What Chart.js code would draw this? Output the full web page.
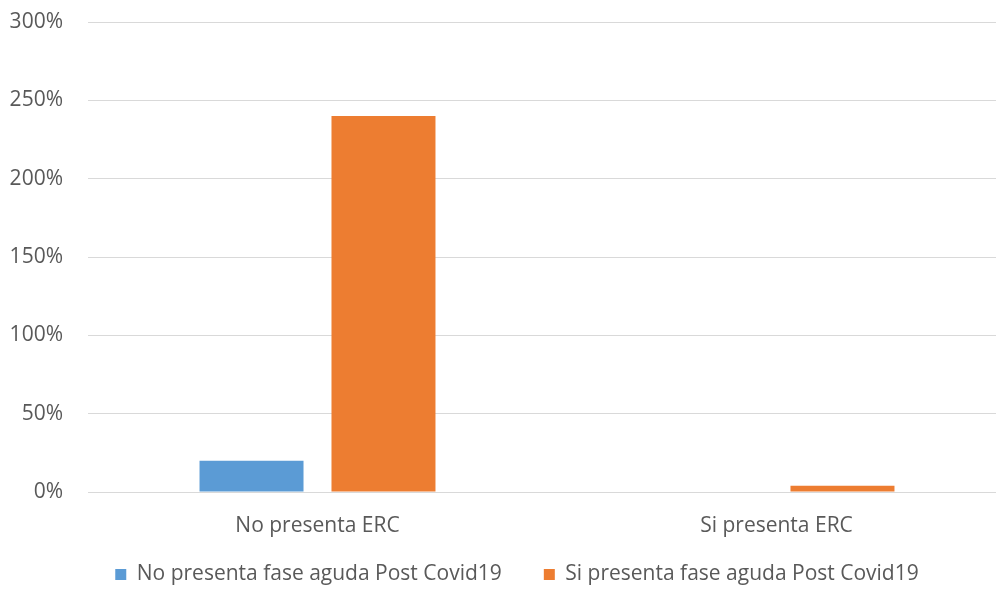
<!DOCTYPE html>
<html>
<head>
<meta charset="utf-8">
<script src="https://cdn.jsdelivr.net/npm/chart.js@4"></script>
<style>
  html, body { margin: 0; padding: 0; background: #fff; overflow: hidden; }
  #grafico { display: block; }
</style>
</head>
<body>
<!-- el gráfico original está recortado a la derecha, por eso el lienzo es algo más ancho que la ventana -->
<canvas id="grafico" width="1006" height="591"></canvas>
<script>
// ================= DATOS =================

const categorias = ["No presenta ERC", "Si presenta ERC"];
const serieNoFase = [20, 0];
const serieSiFase = [240, 4];
const nombresSeries = ["No presenta fase aguda Post Covid19", "Si presenta fase aguda Post Covid19"];
const coloresSeries = ["#5B9BD5", "#ED7D31"];

// ================= GRÁFICO =================

const fuente = "'Open Sans', 'Liberation Sans', sans-serif";

// la leyenda del original está centrada en todo el ancho del gráfico (más ancho que la captura)
// y el padding de la leyenda (separación entre items) también empuja el texto hacia abajo
const moverLeyenda = {
  id: "moverLeyenda",
  afterLayout(chart) {
    if (!chart.legend) return;
    chart.legend.left += 14;
    chart.legend.right += 14;
    chart.legend.top -= 16;
    chart.legend.bottom -= 16;
  }
};

new Chart(document.getElementById("grafico"), {
  type: "bar",
  data: {
    labels: categorias,
    datasets: [
      { label: nombresSeries[0], data: serieNoFase, backgroundColor: coloresSeries[0] },
      { label: nombresSeries[1], data: serieSiFase, backgroundColor: coloresSeries[1] }
    ]
  },
  plugins: [moverLeyenda],
  options: {
    responsive: false,
    animation: false,
    layout: { padding: { left: 0, right: 0, top: 22, bottom: -20 } },
    datasets: {
      bar: { categoryPercentage: 0.575, barPercentage: 0.788 }
    },
    scales: {
      x: {
        afterFit: (s) => { s.height = 46; },
        grid: { display: false },
        border: { color: "#D9D9D9", width: 1 },
        ticks: { color: "#595959", font: { family: fuente, size: 21 }, padding: 13, maxRotation: 0 }
      },
      y: {
        min: 0,
        max: 300,
        afterFit: (s) => {
          s.width = 88;
          s.paddingTop = 0;
          s.paddingBottom = 0;
        },
        grid: { color: "#D9D9D9", drawTicks: false },
        border: { display: false },
        ticks: {
          stepSize: 50,
          padding: 25,
          color: "#595959",
          font: { family: fuente, size: 21 },
          callback: (v) => v + "%"
        }
      }
    },
    plugins: {
      tooltip: { enabled: false },
      legend: {
        position: "bottom",
        labels: {
          color: "#595959",
          font: { family: fuente, size: 21 },
          boxWidth: 11,
          boxHeight: 11,
          padding: 42
        }
      }
    }
  }
});
</script>
</body>
</html>
